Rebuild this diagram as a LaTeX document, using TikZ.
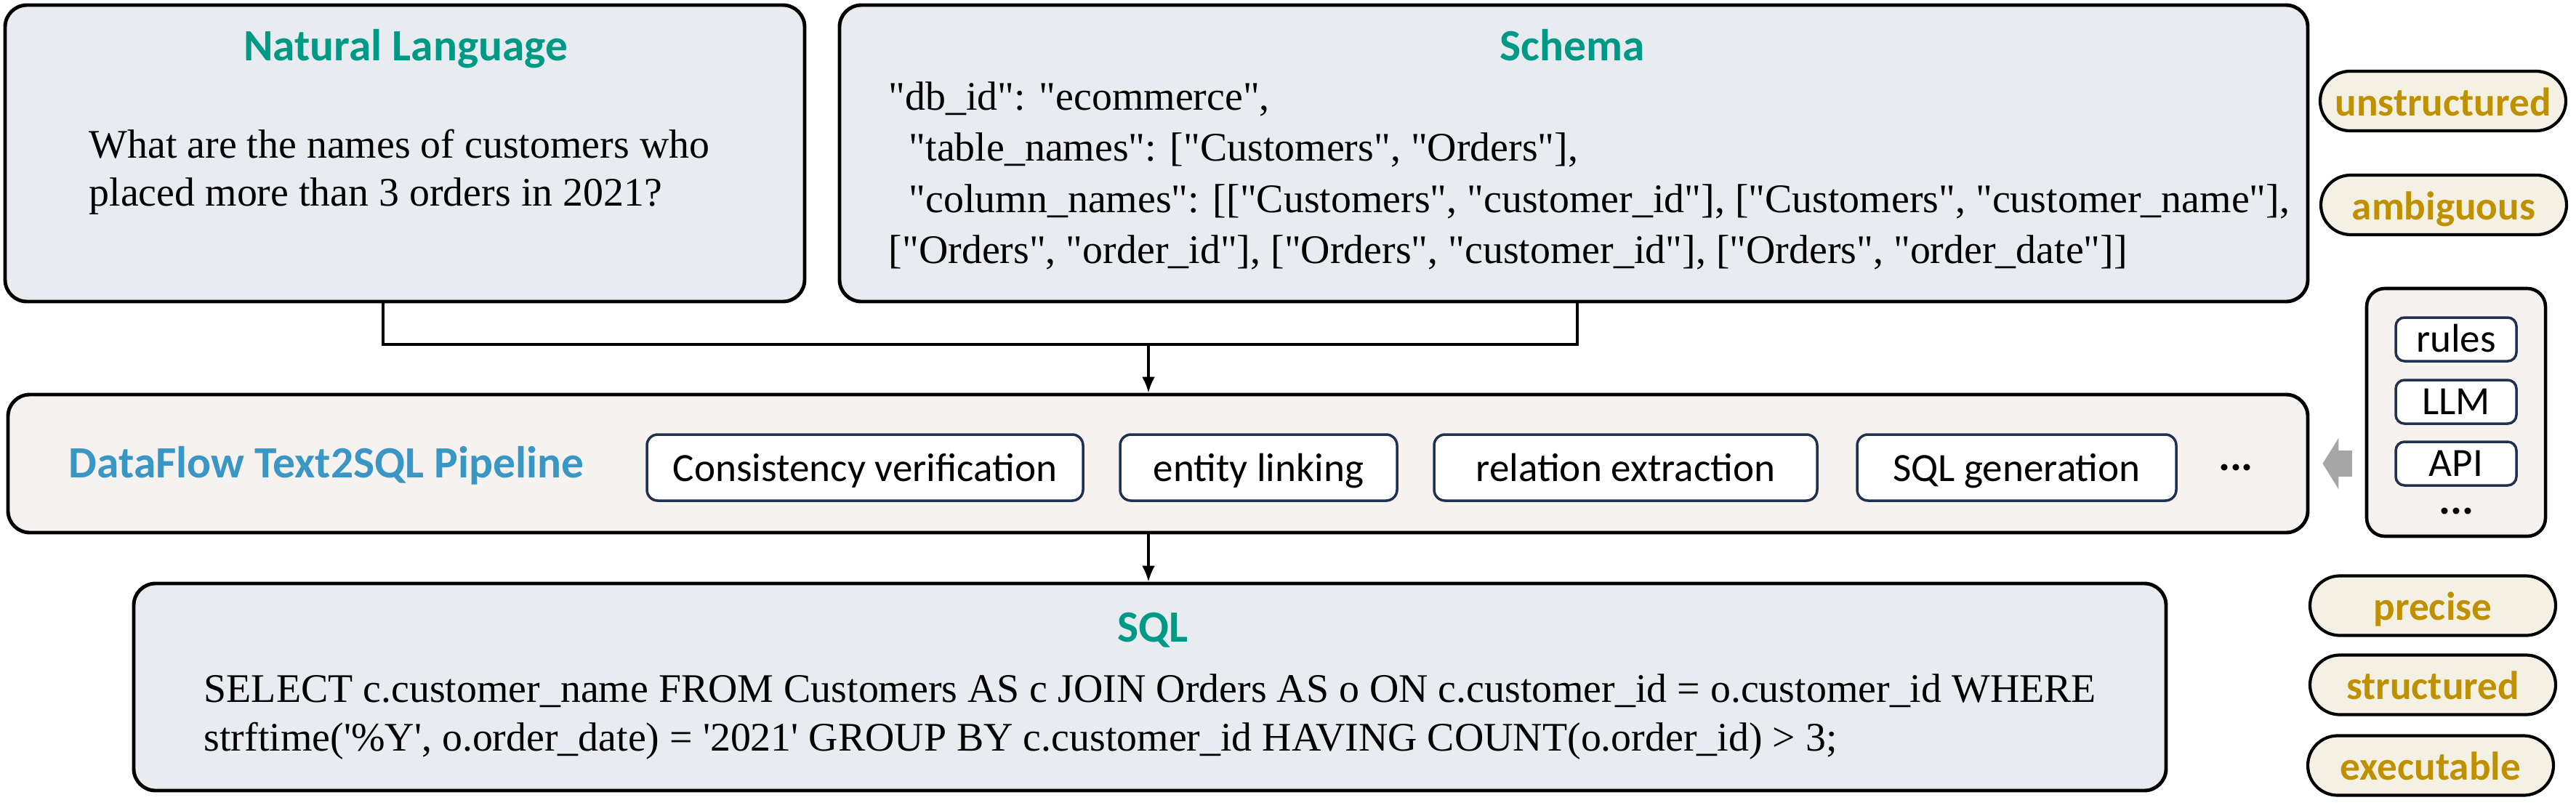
\documentclass[tikz,border=0pt]{standalone}
\usepackage{fontspec}
\setmainfont{Liberation Serif}[Ligatures=TeXOff]
\newfontfamily\calibrifont{Carlito}
\usepackage{tikz}
\usetikzlibrary{arrows.meta}

\definecolor{titlegreen}{RGB}{0,153,133}
\definecolor{pipeblue}{RGB}{58,150,196}
\definecolor{gold}{RGB}{191,144,0}
\definecolor{boxgray}{RGB}{232,235,239}
\definecolor{pipefill}{RGB}{245,242,239}
\definecolor{pillfill}{RGB}{245,240,228}
\definecolor{navy}{RGB}{32,48,80}
\definecolor{arrowgray}{RGB}{166,166,166}

\begin{document}
\begin{tikzpicture}[
  bigbox/.style={draw=black, line width=1.4pt, rounded corners=0.3cm, fill=boxgray, inner sep=0pt},
  title/.style={font=\calibrifont\bfseries\fontsize{17.5}{20}\selectfont, text=titlegreen, anchor=base, inner sep=0pt},
  body/.style={align=left, anchor=north west, inner sep=0pt},
  stepbox/.style={draw=navy, line width=1pt, rounded corners=0.15cm, fill=white, minimum height=0.91cm, text height=0.44cm, text depth=0.06cm, inner sep=0pt, font=\calibrifont\fontsize{15.7}{18}\selectfont},
  toolbox/.style={draw=navy, line width=1pt, rounded corners=0.12cm, fill=white, minimum width=1.66cm, minimum height=0.6cm, text height=0.36cm, text depth=0.02cm, inner sep=0pt, font=\calibrifont\fontsize{15.7}{18}\selectfont},
  pill/.style={draw=black, line width=1.2pt, rounded corners=0.41cm, fill=pillfill, minimum width=3.38cm, minimum height=0.82cm, text height=0.40cm, text depth=0pt, inner sep=0pt, text=gold, font=\calibrifont\bfseries\fontsize{15.7}{18}\selectfont},
  flow/.style={line width=0.9pt, -{Latex[length=0.22cm,width=0.18cm]}}
]
\useasboundingbox (0,0) rectangle (35.44,-11.11);

% input boxes
\node[bigbox, minimum width=11.00cm, minimum height=4.08cm] (nl) at (5.57,-2.11) {};
\node[title] (nltitle) at (5.58,-0.83) {Natural Language};
\node[body, font=\fontsize{15.9}{19}\selectfont] (nltext) at (1.22,-1.77)
  {What are the names of customers who\\placed more than 3 orders in 2021?};

\node[bigbox, minimum width=20.20cm, minimum height=4.08cm] (schema) at (21.65,-2.11) {};
\node[title] (schematitle) at (21.63,-0.83) {Schema};
\node[body, font=\fontsize{15.9}{20}\selectfont] (schematext) at (12.22,-1.12)
  {"db\_id": "ecommerce",\\
   \hspace*{0.28cm}"table\_names": ["Customers", "Orders"],\\
   \hspace*{0.28cm}"column\_names": [["Customers", "customer\_id"], ["Customers", "customer\_name"],\\{}%
   ["Orders", "order\_id"], ["Orders", "customer\_id"], ["Orders", "order\_date"]]};

% pipeline
\node[bigbox, fill=pipefill, minimum width=31.64cm, minimum height=1.90cm] (pipe) at (15.93,-6.38) {};
\node[anchor=base west, inner sep=0pt, text=pipeblue, font=\calibrifont\bfseries\fontsize{17.5}{20}\selectfont] (pipetitle) at (0.94,-6.57) {DataFlow Text2SQL Pipeline};
\node[stepbox, minimum width=6.00cm] (consist) at (11.90,-6.435) {Consistency verification};
\node[stepbox, minimum width=3.81cm] (entity) at (17.315,-6.435) {entity linking};
\node[stepbox, minimum width=5.27cm] (relation) at (22.365,-6.435) {relation extraction};
\node[stepbox, minimum width=4.39cm] (sqlgen) at (27.745,-6.435) {SQL generation};
\node[inner sep=0pt, font=\calibrifont\bfseries\fontsize{17}{18}\selectfont] (pipedots) at (30.76,-6.43) {...};

% tools
\node[bigbox, fill=pipefill, line width=1.3pt, rounded corners=0.25cm, minimum width=2.46cm, minimum height=3.41cm] (tools) at (33.79,-5.675) {};
\foreach \name/\txt/\y in {rules/rules/4.67, llm/LLM/5.53, api/API/6.38}
  \node[toolbox] (\name) at (33.79,-\y) {\txt};
\node[inner sep=0pt, font=\calibrifont\bfseries\fontsize{17}{18}\selectfont] (tooldots) at (33.79,-7.03) {...};
\draw[line width=0.36cm, arrowgray, -{Triangle[length=0.22cm,width=0.70cm]}] ([xshift=-0.18cm]tools.west |- pipe.east) -- ([xshift=0.18cm]pipe.east);

% output
\node[bigbox, minimum width=27.96cm, minimum height=2.85cm] (sql) at (15.82,-9.455) {};
\node[title] (sqltitle) at (15.86,-8.83) {SQL};
\node[body, font=\fontsize{15.9}{19}\selectfont] (sqltext) at (2.80,-9.27)
  {SELECT c.customer\_name FROM Customers AS c JOIN Orders AS o ON c.customer\_id = o.customer\_id WHERE\\
   strftime('\%Y', o.order\_date) = '2021' GROUP BY c.customer\_id HAVING COUNT(o.order\_id) > 3;};

% property tags
\foreach \name/\word/\x/\y in {unstr/unstructured/33.61/1.39, ambig/ambiguous/33.62/2.82, prec/precise/33.47/8.335, struc/structured/33.47/9.425, exec/executable/33.44/10.535}
  \node[pill] (\name) at (\x,-\y) {\word};

% connectors
\coordinate (nlfoot) at (5.27,-4.74);
\coordinate (schfoot) at (21.70,-4.74);
\coordinate (merge) at (15.80,-4.74);
\draw[line width=0.9pt] (nlfoot |- nl.south) -- (nlfoot) -- (schfoot) -- (schfoot |- schema.south);
\draw[flow] (merge) -- (merge |- pipe.north);
\draw[flow] (merge |- pipe.south) -- (merge |- sql.north);
\end{tikzpicture}
\end{document}
